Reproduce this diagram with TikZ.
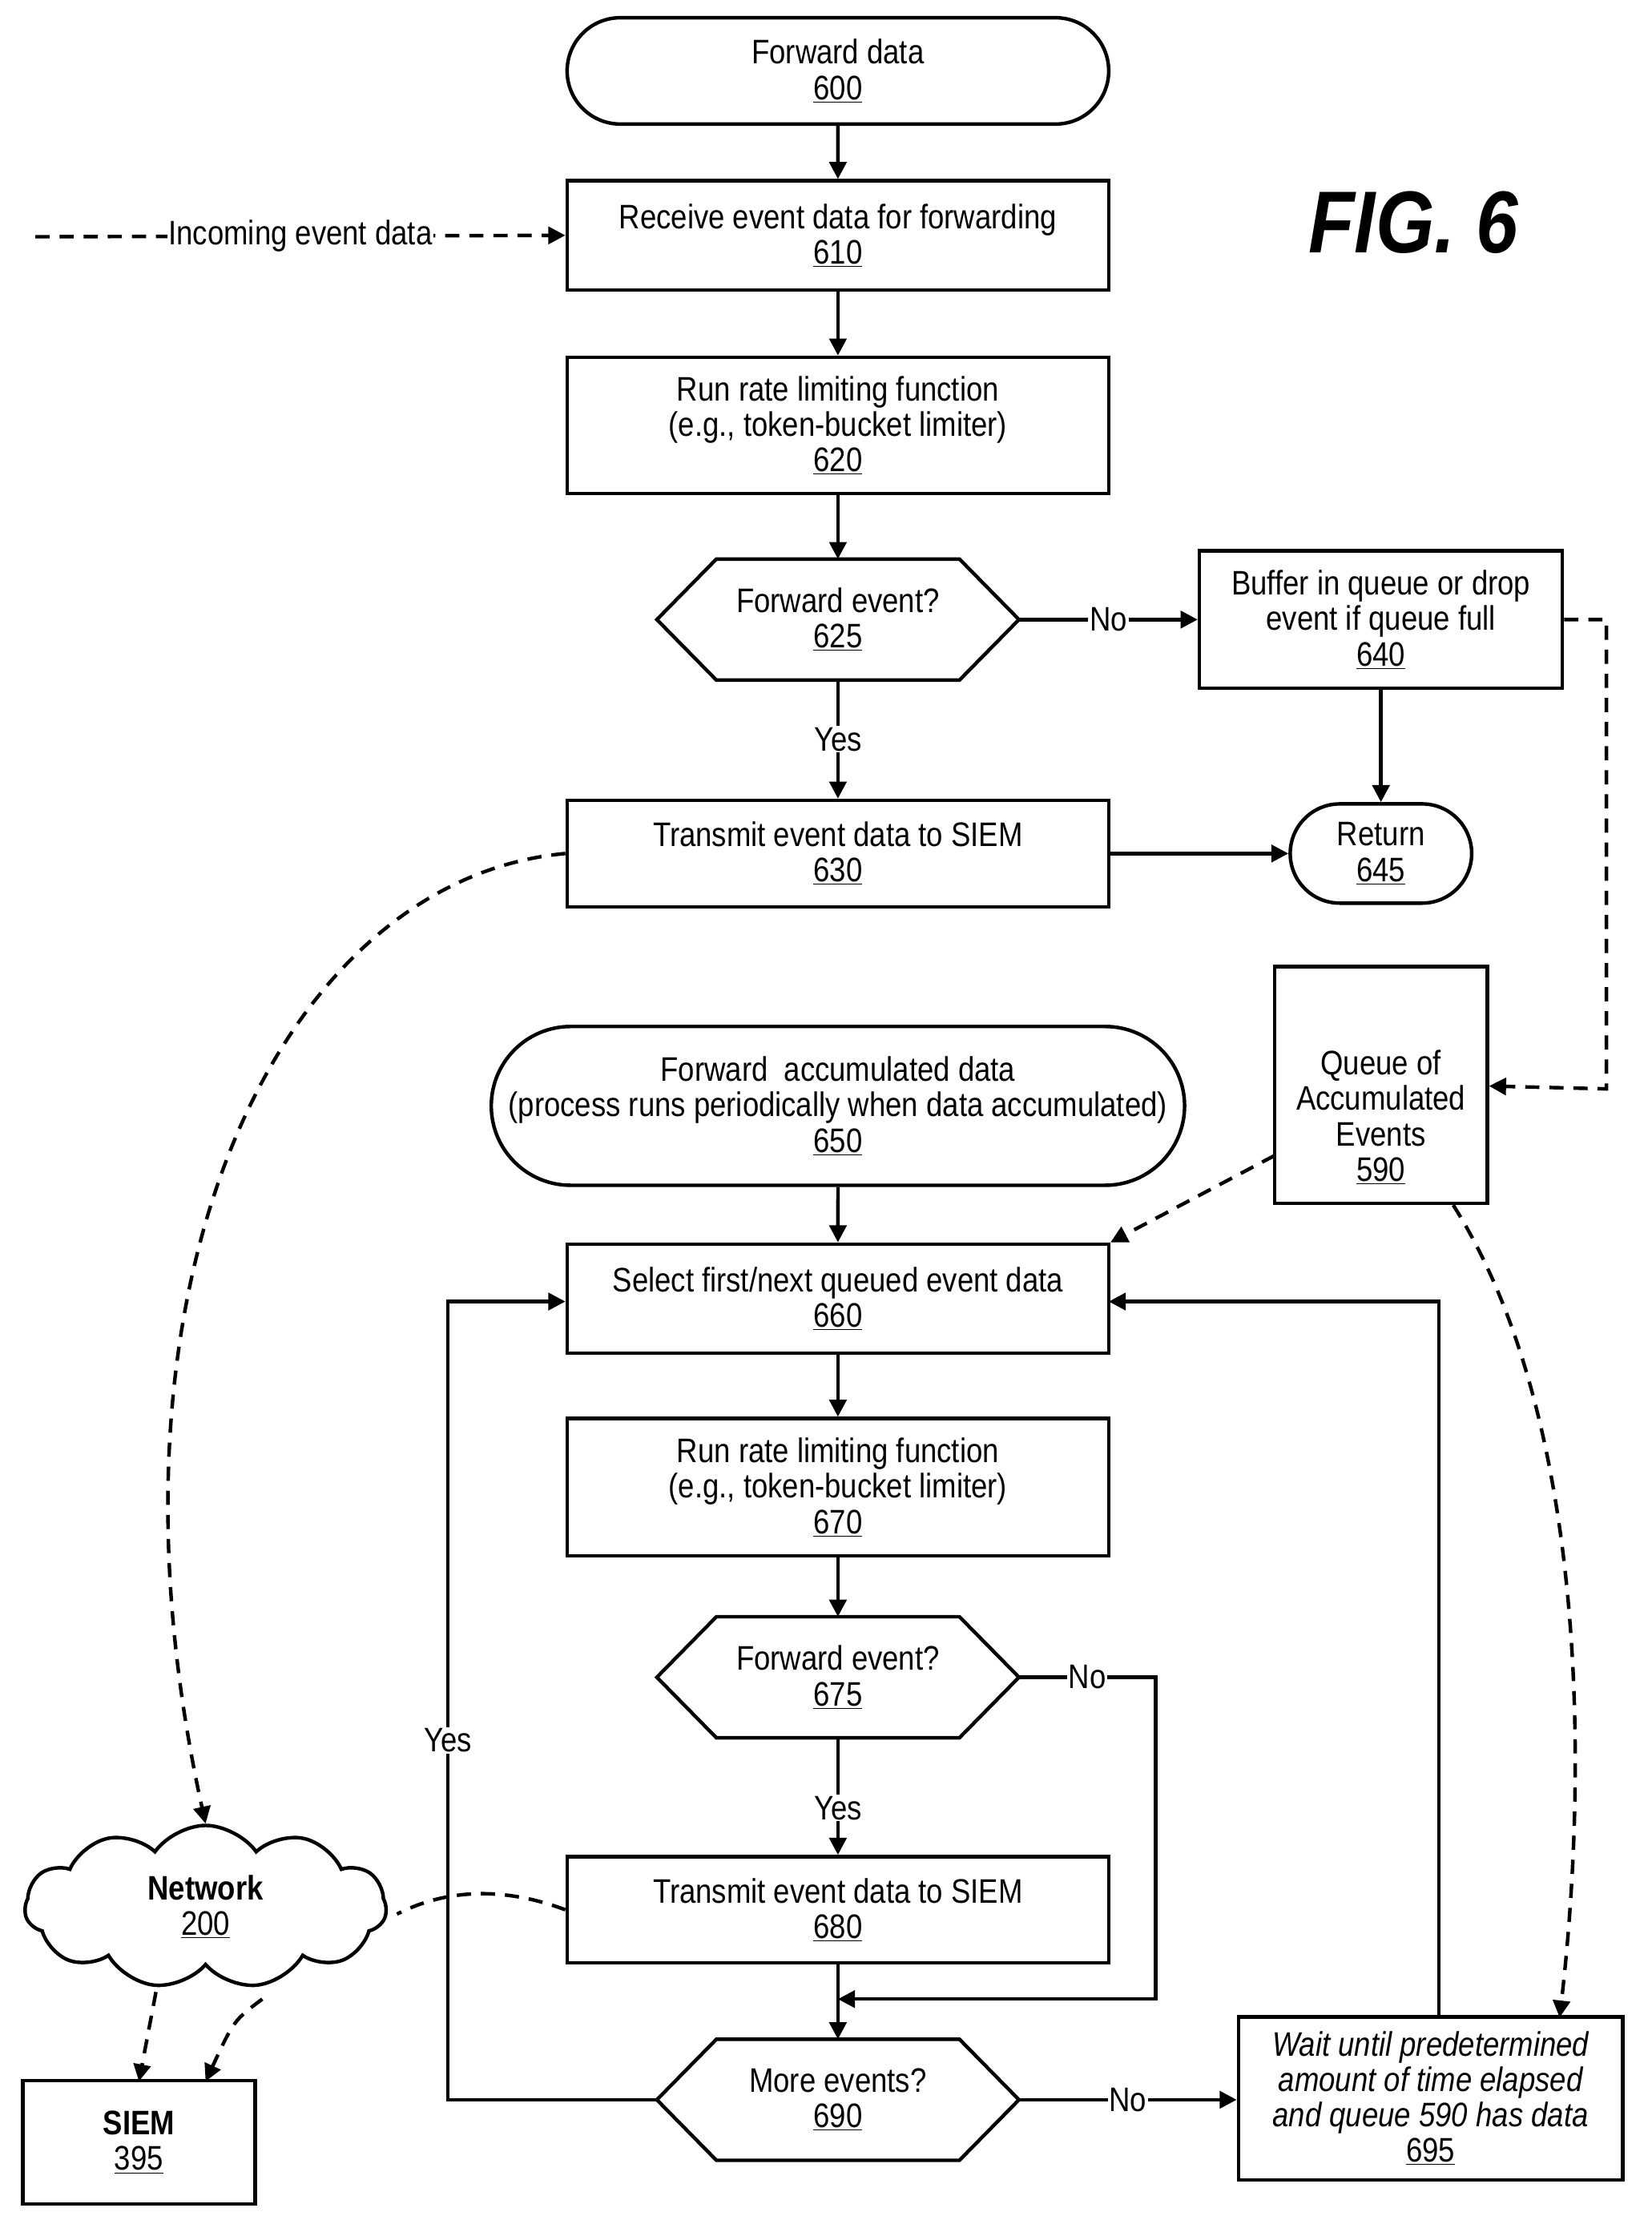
\documentclass[tikz,border=0pt]{standalone}
\usepackage{fontspec}
\setmainfont{Liberation Sans}[FakeStretch=0.86]
\usetikzlibrary{shapes.geometric,shapes.symbols,arrows.meta}
\begin{document}
\begin{tikzpicture}[x=1pt,y=-1pt,
 every node/.style={font=\fontsize{24}{25}\selectfont, align=center},
 box/.style={draw, line width=2.5pt, rectangle, inner sep=0pt},
 term/.style={draw, line width=2.5pt, rounded rectangle, inner sep=0pt},
 ar/.style={line width=2.5pt, -{Triangle[length=12pt,width=12pt]}},
 da/.style={line width=2.5pt, dash pattern=on 10pt off 7pt, -{Triangle[length=12pt,width=12pt]}},
 lbl/.style={fill=white, inner sep=1pt}]
\usetikzlibrary{shapes.misc}
\useasboundingbox (0,0) rectangle (1165,1563);
\newcommand{\hexa}[4]{% name, cx, cy, text
 \node (#1) at (#2,#3) [minimum width=255pt, minimum height=85pt, inner sep=0pt] {#4};
 \draw[line width=2.5pt] ([xshift=42pt]#1.north west) -- ([xshift=-42pt]#1.north east) -- (#1.east) -- ([xshift=-42pt]#1.south east) -- ([xshift=42pt]#1.south west) -- (#1.west) -- cycle;}
\node[term, minimum width=382pt, minimum height=75pt] (n600) at (591,50) {Forward data\\\underline{600}};
\node[box, minimum width=382pt, minimum height=77pt] (n610) at (591,166) {Receive event data for forwarding\\\underline{610}};
\node[box, minimum width=382pt, minimum height=96pt] (n620) at (591,300) {Run rate limiting function\\(e.g., token-bucket limiter)\\\underline{620}};
\hexa{n625}{591}{437}{Forward event?\\\underline{625}}
\node[box, minimum width=256pt, minimum height=97pt] (n640) at (974,437) {Buffer in queue or drop\\event if queue full\\\underline{640}};
\node[box, minimum width=382pt, minimum height=75pt] (n630) at (591,602) {Transmit event data to SIEM\\\underline{630}};
\node[term, minimum width=128pt, minimum height=70pt] (n645) at (974,602) {Return\\\underline{645}};
\node[draw, line width=2.5pt, cylinder, shape border rotate=90, aspect=0.25, minimum width=150pt, minimum height=167pt, inner sep=0pt] (n590) at (974,766) {};
\node at (974,788) {Queue of\\Accumulated\\Events\\\underline{590}};
\node[term, minimum width=489pt, minimum height=112pt] (n650) at (591,780) {Forward\ \ accumulated data\\(process runs periodically when data accumulated)\\\underline{650}};
\node[box, minimum width=382pt, minimum height=77pt] (n660) at (591,916) {Select first/next queued event data\\\underline{660}};
\node[box, minimum width=382pt, minimum height=97pt] (n670) at (591,1049) {Run rate limiting function\\(e.g., token-bucket limiter)\\\underline{670}};
\hexa{n675}{591}{1183}{Forward event?\\\underline{675}}
\node[box, minimum width=382pt, minimum height=75pt] (n680) at (591,1347) {Transmit event data to SIEM\\\underline{680}};
\hexa{n690}{591}{1481}{More events?\\\underline{690}}
\node[box, minimum width=271pt, minimum height=115pt] (n695) at (1009,1480) {\itshape Wait until predetermined\\\itshape amount of time elapsed\\\itshape and queue 590 has data\\\underline{695}};
\node[draw, line width=2.5pt, cloud, cloud puffs=11, cloud puff arc=110, aspect=2.2, minimum width=255pt, minimum height=115pt, inner sep=0pt] (net) at (145,1345) {};
\node at (145,1345) {\textbf{Network}\\\underline{200}};
\node[box, minimum width=164pt, minimum height=87pt] (siem) at (98,1511) {\textbf{SIEM}\\\underline{395}};
\node[font=\fontsize{62}{62}\selectfont\bfseries\itshape] (fig) at (997,157) {FIG. 6};
\coordinate (inc) at (25,167);
\draw[da] (inc) -- node[lbl]{Incoming event data} (n610.west);
\draw[ar] (n600) -- (n610);
\draw[ar] (n610) -- (n620);
\draw[ar] (n620) -- (n625);
\draw[ar] (n625) -- node[lbl, pos=0.5]{Yes} (n630);
\draw[ar] (n625) -- node[lbl, pos=0.5]{No} (n640);
\draw[ar] (n640) -- (n645);
\draw[ar] (n630) -- (n645);
\draw[da] (n640.east) -- (1133,437) -- (1133,768) -- (n590.east);
\draw[da] (n630.west) .. controls (200,620) and (60,900) .. (net.north);
\draw[da] (899,815) -- (n660.north east);
\draw[da] (1025,850) .. controls (1120,1000) and (1120,1250) .. (1100,1423);
\draw[ar] (n650) -- (n660);
\draw[ar] (n660) -- (n670);
\draw[ar] (n670) -- (n675);
\draw[ar] (n675) -- node[lbl, pos=0.6]{Yes} (n680);
\draw[ar] (n680) -- (n690);
\draw[ar] (n675.east) -- node[lbl, pos=0.5]{No} (815,1183) -- (815,1410) -- (591,1410);
\draw[ar] (n690.west) -- (316,1481) -- node[lbl, pos=0.45]{Yes} (316,918) -- (n660.west |- 0,918);
\draw[ar] (n690.east) -- node[lbl]{No} (n695.west |- 0,1481);
\draw[ar] (1015,1423) -- (1015,918) -- (782,918);
\draw[line width=2.5pt, dash pattern=on 10pt off 7pt] (n680.west) .. controls (340,1325) and (300,1340) .. (280,1350);
\draw[da] (110,1405) -- (98,1468);
\draw[da] (185,1410) .. controls (165,1425) .. (145,1468);
\end{tikzpicture}
\end{document}
